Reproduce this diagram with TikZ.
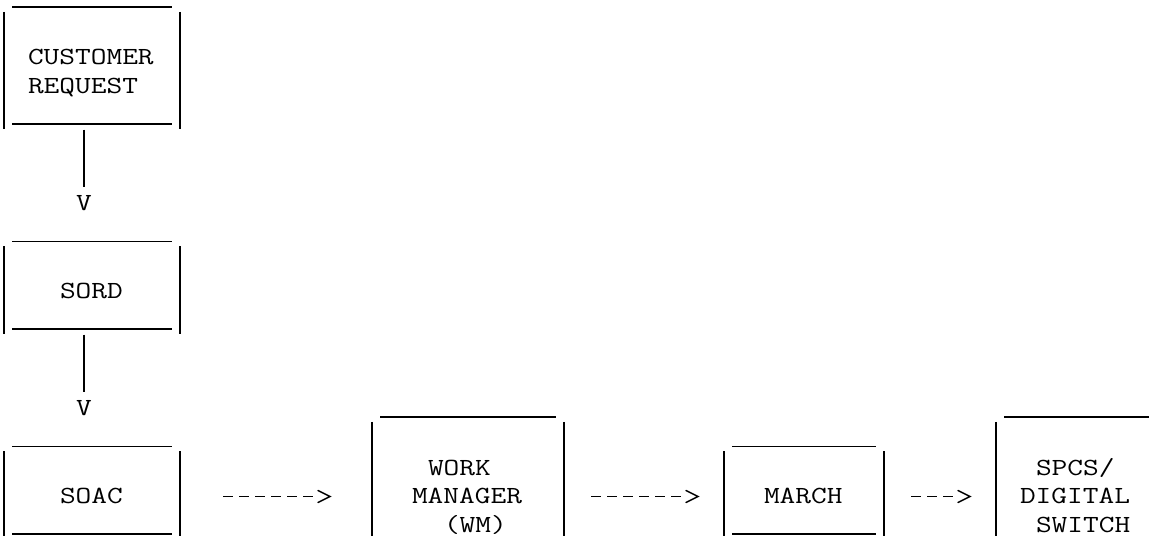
\documentclass[tikz,border=0pt]{standalone}
\usepackage{graphicx}
\usetikzlibrary{calc}
\newcommand{\asc}[1]{\scalebox{1.24}[1]{\ttfamily\fontsize{12.3pt}{14pt}\selectfont #1}}
\tikzset{
  edge/.style={line width=0.7pt, draw=black, line cap=butt},
  txt/.style={anchor=base west, inner sep=0pt, outer sep=0pt, text=black},
  dashconn/.style={line width=0.7pt, draw=black, dash pattern=on 5pt off 3pt},
  tipline/.style={line width=0.7pt, draw=black, line cap=round, line join=miter},
}
\begin{document}
\begin{tikzpicture}[x=0.5pt,y=-0.5pt]
\useasboundingbox (0,0) rectangle (1149,535);
\clip (0,0) rectangle (1149,535);
% ---------- box outlines ----------
% CUSTOMER REQUEST
\draw[edge] (12,7) -- (172,7);
\draw[edge] (12,124.12) -- (172,124.12);
\draw[edge] (4,12) -- (4,128.6);
\draw[edge] (180,12) -- (180,128.6);
% SORD
\draw[edge] (12,241.24) -- (172,241.24);
\draw[edge] (12,329.08) -- (172,329.08);
\draw[edge] (4,246.2) -- (4,333.6);
\draw[edge] (180,246.2) -- (180,333.6);
% SOAC
\draw[edge] (12,446.2) -- (172,446.2);
\draw[edge] (12,534.04) -- (172,534.04);
\draw[edge] (4,451.2) -- (4,540);
\draw[edge] (180,451.2) -- (180,540);
% WORK MANAGER
\draw[edge] (380,416.92) -- (556,416.92);
\draw[edge] (372,421.9) -- (372,540);
\draw[edge] (564,421.9) -- (564,540);
% MARCH
\draw[edge] (732,446.2) -- (876,446.2);
\draw[edge] (732,534.04) -- (876,534.04);
\draw[edge] (724,451.2) -- (724,540);
\draw[edge] (884,451.2) -- (884,540);
% SPCS
\draw[edge] (1004,416.92) -- (1160,416.92);
\draw[edge] (996,421.9) -- (996,540);
% ---------- texts ----------
\node[txt] (cr1) at (28,64.56) {\asc{CUSTOMER}};
\node[txt] (cr2) at (28,93.84) {\asc{REQUEST}};
\node[txt] (v1) at (76,210.96) {\asc{V}};
\node[txt] (sord) at (60,298.8) {\asc{SORD}};
\node[txt] (v2) at (76,415.9) {\asc{V}};
\node[txt] (soac) at (60,503.76) {\asc{SOAC}};
\node[txt] (wm1) at (428,475) {\asc{WORK}};
\node[txt] (wm2) at (412,503.9) {\asc{MANAGER}};
\node[txt] (wm3) at (444,532.3) {\asc{(WM)}};
\node[txt] (march) at (764,503.76) {\asc{MARCH}};
\node[txt] (sp1) at (1036,475) {\asc{SPCS/}};
\node[txt] (sp2) at (1020,503.9) {\asc{DIGITAL}};
\node[txt] (sp3) at (1036,532.3) {\asc{SWITCH}};
% ---------- connectors ----------
\coordinate (c1s) at (84,129.6);
\coordinate (c1e) at (84,187.2);
\draw[edge] (c1s) -- (c1e);
\coordinate (c2s) at (84,334.6);
\coordinate (c2e) at (84,392.1);
\draw[edge] (c2s) -- (c2e);
% horizontal arrows
\coordinate (a1s) at (223,496.5);
\coordinate (a1e) at (313,496.5);
\draw[dashconn] (a1s) -- (a1e);
\draw[tipline] ($(a1e)+(5,-6)$) -- ++(12,6) -- ++(-12,6);
\coordinate (a2s) at (591,496.5);
\coordinate (a2e) at (681,496.5);
\draw[dashconn] (a2s) -- (a2e);
\draw[tipline] ($(a2e)+(5,-6)$) -- ++(12,6) -- ++(-12,6);
\coordinate (a3s) at (911,496.5);
\coordinate (a3e) at (953,496.5);
\draw[dashconn] (a3s) -- (a3e);
\draw[tipline] ($(a3e)+(5,-6)$) -- ++(12,6) -- ++(-12,6);
\end{tikzpicture}
\end{document}
